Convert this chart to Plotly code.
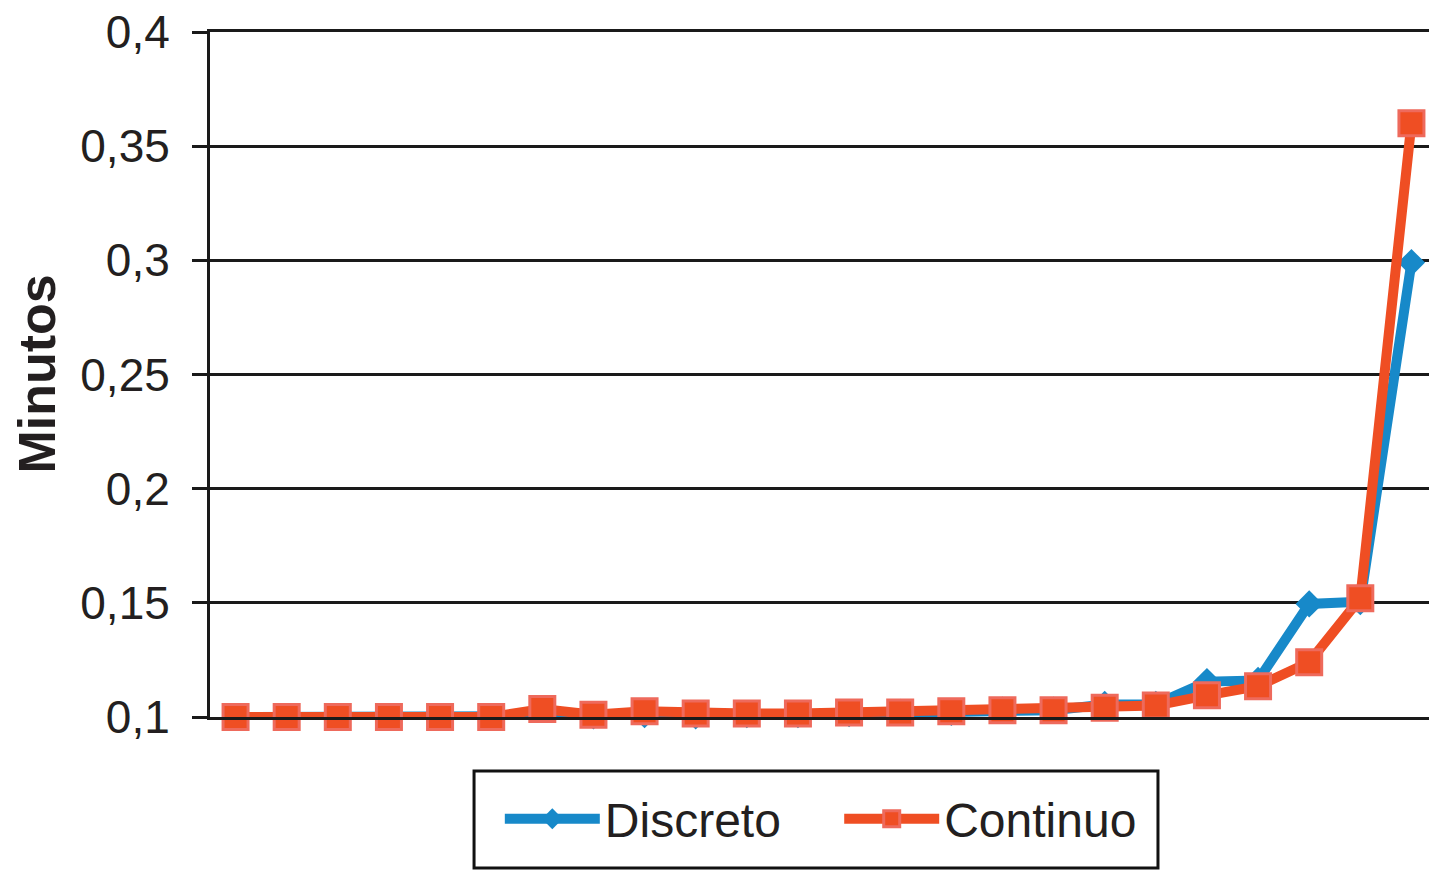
import plotly.graph_objects as go

x_idx = list(range(1, 25))
discreto = [0.1, 0.1, 0.1, 0.1, 0.1, 0.1, 0.0995, 0.1005, 0.101, 0.1005, 0.101, 0.101,
            0.1015, 0.102, 0.102, 0.103, 0.103, 0.1055, 0.1055, 0.1155, 0.116, 0.1495, 0.1505, 0.299]
continuo = [0.1, 0.1, 0.1, 0.1, 0.1, 0.1, 0.1035, 0.101, 0.1025, 0.1015, 0.1015, 0.1015,
            0.102, 0.102, 0.1025, 0.103, 0.103, 0.104, 0.105, 0.1095, 0.1135, 0.124, 0.152, 0.36]
y_ticks = [0.1, 0.15, 0.2, 0.25, 0.3, 0.35, 0.4]
y_tick_text = ["0,1", "0,15", "0,2", "0,25", "0,3", "0,35", "0,4"]

NB = "\u00a0"

fig = go.Figure()
fig.add_trace(go.Scatter(
    x=x_idx, y=discreto, name="Discreto" + NB * 4, mode="lines+markers",
    line=dict(color="#1789c9", width=10),
    marker=dict(symbol="diamond", size=21, color="#1789c9", line=dict(width=0)),
    cliponaxis=False,
))
fig.add_trace(go.Scatter(
    x=x_idx, y=continuo, name="Continuo", mode="lines+markers",
    line=dict(color="#ef4e23", width=10),
    marker=dict(symbol="square", size=25, color="#ef4e23", line=dict(color="#ee6a5c", width=3)),
    cliponaxis=False,
))

# legend frame
fig.add_shape(type="rect", xref="paper", yref="paper",
              x0=0.2152, x1=0.7726, y0=-0.2204, y1=-0.0788,
              line=dict(color="#111111", width=3), fillcolor="rgba(0,0,0,0)")

fig.add_annotation(text="<b>Minutos</b>", xref="paper", yref="paper",
                   x=(28 - 202) / 1227, y=0.5, textangle=-90, showarrow=False,
                   xanchor="center", yanchor="middle", height=50,
                   font=dict(size=52, color="#231f20"))

fig.update_layout(
    width=1429, height=863,
    margin=dict(l=202, r=0, t=24, b=154, autoexpand=False),
    plot_bgcolor="white", paper_bgcolor="white",
    font=dict(family="Liberation Sans, Arial, sans-serif", color="#231f20"),
    showlegend=True,
    legend=dict(
        orientation="h", x=0.2152 + 0.021, xanchor="left", y=-0.149, yanchor="middle",
        borderwidth=0, bgcolor="rgba(0,0,0,0)",
        font=dict(size=48, color="#231f20"),
        itemwidth=95, tracegroupgap=0,
    ),
    xaxis=dict(
        range=[0.5, 24.5], showticklabels=False, showgrid=False, zeroline=False,
        showline=True, linecolor="#1a1a1a", linewidth=3, mirror=True,
        ticks="", fixedrange=True, automargin=False,
    ),
    yaxis=dict(
        range=[0.1, 0.4], tickvals=y_ticks, ticktext=y_tick_text,
        showgrid=True, gridcolor="#1a1a1a", gridwidth=3,
        showline=True, linecolor="#1a1a1a", linewidth=3,
        ticks="outside", ticklen=15, tickwidth=3, tickcolor="#1a1a1a",
        tickfont=dict(size=46, color="#231f20"),
        ticklabelstandoff=13, ticklabeloverflow="allow",
        zeroline=False, automargin=False,
    ),
)

fig.write_html("out.html")
